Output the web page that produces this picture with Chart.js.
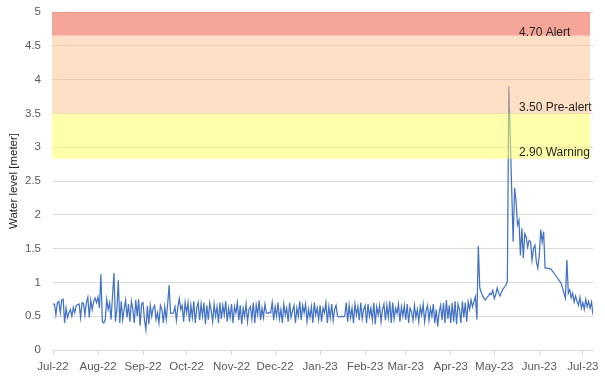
<!DOCTYPE html>
<html>
<head>
<meta charset="utf-8">
<script src="https://cdn.jsdelivr.net/npm/chart.js@4/dist/chart.umd.min.js"></script>
<style>
  html, body { margin: 0; padding: 0; background: #fff; }
  canvas { display: block; }
</style>
</head>
<body>
<canvas id="chart-level" width="605" height="381"></canvas>
<script>
// --- daily water level [m], starting 1 Jul 2022 (null = no reading) ---
const jul22 = [0.68,0.68,0.52,0.70,0.72,0.55,0.74,0.75,0.40,0.62,0.48,0.55,0.60,0.50,0.63,0.55,0.66,0.67,0.68,0.48,0.70,0.69,0.52,0.70,0.78,0.48,0.74,0.60,0.72,0.77,0.70];
const aug22 = [0.78,0.62,1.12,0.42,0.40,0.45,0.75,0.60,0.70,0.45,0.80,1.14,0.42,0.60,1.03,0.40,0.72,0.45,0.60,0.74,0.48,0.68,0.42,0.72,0.60,0.40,0.74,0.50,0.75,0.36,0.68];
const sep22 = [0.70,0.45,0.30,0.65,0.38,0.66,0.50,0.62,0.66,0.45,0.55,0.40,0.66,0.60,0.40,0.64,0.45,0.68,0.96,0.54,0.54,0.55,0.64,0.44,0.64,0.76,0.60,0.66,0.42,0.70];
const oct22 = [0.55,0.70,0.42,0.66,0.48,0.72,0.40,0.62,0.70,0.44,0.68,0.50,0.70,0.38,0.66,0.45,0.70,0.58,0.42,0.68,0.50,0.64,0.40,0.70,0.46,0.66,0.52,0.72,0.42,0.62,0.48];
const nov22 = [0.68,0.40,0.64,0.55,0.70,0.44,0.66,0.38,0.62,0.50,0.68,0.42,0.60,0.64,0.46,0.70,0.40,0.66,0.52,0.73,0.44,0.62,0.48,0.68,0.55,0.54,0.56,0.55,0.70,0.44];
const dec22 = [0.64,0.50,0.70,0.46,0.60,0.40,0.68,0.52,0.62,0.42,0.70,0.48,0.58,0.66,0.40,0.62,0.50,0.72,0.44,0.66,0.55,0.68,0.42,0.60,0.48,0.64,0.40,0.70,0.52,0.62,0.45];
const jan23 = [0.66,0.42,0.62,0.55,0.70,0.40,0.64,0.48,0.68,0.44,0.60,0.66,0.50,0.49,0.49,0.50,0.49,0.50,0.70,0.42,0.66,0.48,0.62,0.40,0.68,0.52,0.64,0.44,0.70,0.46,0.60];
const feb23 = [0.66,0.40,0.68,0.50,0.62,0.44,0.70,0.38,0.64,0.52,0.66,0.42,0.60,0.68,0.44,0.66,0.48,0.72,0.40,0.70,0.46,0.62,0.54,0.68,0.42,0.64,0.50,0.66];
const mar23 = [0.45,0.68,0.40,0.62,0.56,0.44,0.66,0.48,0.60,0.42,0.64,0.52,0.68,0.42,0.58,0.66,0.44,0.62,0.50,0.68,0.40,0.60,0.35,0.56,0.66,0.44,0.70,0.40,0.74,0.46,0.66];
const apr23 = [0.40,0.70,0.42,0.72,0.38,0.68,0.60,0.40,0.72,0.48,0.70,0.42,0.71,0.60,0.74,0.64,0.72,0.79,0.45,1.54,0.92,0.85,0.80,0.76,0.74,0.78,0.80,0.84,0.82,0.88];
const may23 = [0.76,0.82,0.92,0.84,0.80,0.86,0.90,0.93,0.96,1.02,3.90,null,null,1.60,2.40,2.20,1.85,1.92,1.40,1.80,1.36,1.72,1.67,1.52,1.62,1.60,1.33,1.50,1.55,1.30,1.21];
const jun23 = [1.40,1.78,1.60,1.75,1.21,1.21,1.21,1.20,1.20,null,null,null,1.08,null,null,0.99,null,0.84,0.77,1.33,0.84,0.89,0.77,0.84,0.71,0.80,0.72,0.66,0.78,0.62];
const jul23 = [0.70,0.60,0.75,0.64,0.72,0.62,0.71,0.52];

const levels = [].concat(jul22, aug22, sep22, oct22, nov22, dec22, jan23, feb23, mar23, apr23, may23, jun23, jul23);

// --- x axis: day number of each month start + label ---
const monthDays = [0,31,62,92,123,153,184,215,243,274,304,335,365];
const monthLabels = ['Jul-22','Aug-22','Sep-22','Oct-22','Nov-22','Dec-22','Jan-23','Feb-23','Mar-23','Apr-23','May-23','Jun-23','Jul-23'];

// --- threshold bands ---
const bandNames = ['2.90 Warning','3.50 Pre-alert','4.70 Alert'];
const bandLow   = [2.83, 3.50, 4.65];
const bandHigh  = [3.50, 4.65, 5.00];
const labelAt   = [2.92, 3.58, 4.70];

const bandColors = ['rgba(255,255,102,0.55)','rgba(251,193,139,0.5)','rgba(238,107,83,0.6)'];

const FONT = "'Liberation Sans', Arial, sans-serif";

const bandsPlugin = {
  id: 'bands',
  afterDatasetsDraw(chart) {
    const { ctx, chartArea, scales: { y } } = chart;
    ctx.save();
    bandLow.forEach((lo, i) => {
      const top = y.getPixelForValue(bandHigh[i]);
      const bot = y.getPixelForValue(lo);
      ctx.fillStyle = bandColors[i];
      ctx.fillRect(chartArea.left - 1, top, chartArea.right - chartArea.left - 2, bot - top);
    });
    ctx.fillStyle = '#262626';
    ctx.font = '12px ' + FONT;
    ctx.textBaseline = 'middle';
    ctx.textAlign = 'left';
    bandNames.forEach((name, i) => {
      ctx.fillText(name, 519, y.getPixelForValue(labelAt[i]));
    });
    ctx.restore();
  }
};

new Chart(document.getElementById('chart-level').getContext('2d'), {
  type: 'line',
  data: {
    datasets: [{
      label: 'Water level',
      data: levels.map((v, i) => ({ x: i, y: v })),
      borderColor: '#4472C4',
      borderWidth: 1.25,
      pointRadius: 0,
      tension: 0,
      spanGaps: true,
      fill: false
    }]
  },
  options: {
    responsive: false,
    animation: false,
    layout: { padding: { top: 12, right: 12, bottom: 0, left: 0 } },
    plugins: { legend: { display: false }, tooltip: { enabled: false } },
    scales: {
      x: {
        type: 'linear',
        min: 0,
        max: 372,
        afterBuildTicks: axis => { axis.ticks = monthDays.map(v => ({ value: v })); },
        afterFit: axis => { axis.height = 31; },
        ticks: {
          autoSkip: false,
          maxRotation: 0,
          padding: 5,
          color: '#595959',
          font: { family: FONT, size: 11.5 },
          callback: v => monthLabels[monthDays.indexOf(v)]
        },
        grid: { drawOnChartArea: false, tickLength: 5, color: '#d9d9d9' },
        border: { color: '#d9d9d9' }
      },
      y: {
        min: 0,
        max: 5,
        afterFit: axis => { axis.width = 53; axis.paddingTop = 0; axis.paddingBottom = 0; },
        ticks: {
          stepSize: 0.5,
          padding: 12,
          color: '#595959',
          font: { family: FONT, size: 11.5 },
          callback: v => `${v}`
        },
        grid: { color: '#d9d9d9', drawTicks: false },
        border: { display: false },
        title: {
          display: true,
          text: 'Water level [meter]',
          color: '#262626',
          font: { family: FONT, size: 11.5 },
          padding: { top: 7, bottom: 0 }
        }
      }
    }
  },
  plugins: [bandsPlugin]
});
</script>
</body>
</html>
